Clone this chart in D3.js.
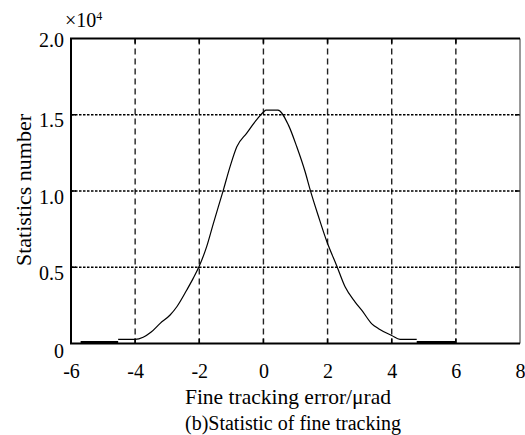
<!DOCTYPE html>
<html>
<head>
<meta charset="utf-8">
<script src="https://cdn.jsdelivr.net/npm/d3@7"></script>
<style>
  body { margin: 0; background: #fff; }
  svg text { font-family: "Liberation Serif", "Times New Roman", serif !important; fill: #000; }
</style>
</head>
<body>
<div id="main-svg"></div>
<script>
// histogram envelope of the fine tracking error (y in 1e4)
var errX = [-4.53, -4.0, -3.75, -3.5, -3.22, -2.91, -2.7, -2.39, -2.19, -2.0, -1.77, -1.56, -1.25,
            -1.04, -0.83, -0.52, -0.21, 0.02, 0.08, 0.45, 0.78, 1.04, 1.30, 1.46, 1.72, 1.98,
            2.29, 2.55, 2.86, 3.07, 3.38, 3.59, 4.0, 4.26, 4.78];
var countY = [0.027, 0.027, 0.041, 0.075, 0.132, 0.187, 0.241, 0.351, 0.427, 0.508, 0.635, 0.788, 1.006,
              1.16, 1.29, 1.38, 1.468, 1.522, 1.53, 1.53, 1.432, 1.29, 1.126, 1.006, 0.831, 0.667,
              0.507, 0.37, 0.272, 0.217, 0.129, 0.097, 0.053, 0.027, 0.027];

// flat, heavily overdrawn tails near zero
var tailStart = [-5.7, 4.78];
var tailEnd = [-4.53, 6.0];
var tailY = 0.007;

var xTicks = [-6, -4, -2, 0, 2, 4, 6, 8];
var yTicks = [0, 0.5, 1.0, 1.5, 2.0];
var xGrid = [-4, -2, 0, 2, 4, 6];
var yGrid = [0.5, 1.0, 1.5];

var serif = '"Liberation Serif", "Times New Roman", serif';

var width = 525, height = 435;
var margin = { top: 38.5, left: 71, right: 5, bottom: 91.5 };
var plotW = width - margin.left - margin.right;
var plotH = height - margin.top - margin.bottom;

var x = d3.scaleLinear().domain([-6, 8]).range([0, plotW]);
var y = d3.scaleLinear().domain([0, 2]).range([plotH, 0]);

var svg = d3.select("#main-svg")
    .append("svg")
    .attr("width", width)
    .attr("height", height)
    .style("font-family", serif);

var g = svg.append("g")
    .attr("transform", "translate(" + margin.left + "," + margin.top + ")");

// grid
g.selectAll(".vgrid")
  .data(xGrid)
  .enter().append("line")
  .attr("x1", function(d) { return x(d); })
  .attr("x2", function(d) { return x(d); })
  .attr("y1", 0)
  .attr("y2", plotH)
  .attr("stroke", "#222")
  .attr("stroke-width", 1.4)
  .attr("stroke-dasharray", "6,4");

g.selectAll(".hgrid")
  .data(yGrid)
  .enter().append("line")
  .attr("x1", 0)
  .attr("x2", plotW)
  .attr("y1", function(d) { return y(d); })
  .attr("y2", function(d) { return y(d); })
  .attr("stroke", "#000")
  .attr("stroke-width", 1.5)
  .attr("stroke-dasharray", "2.5,1.5");

// curve
var line = d3.line()
    .curve(d3.curveMonotoneX)
    .x(function(d) { return x(d[0]); })
    .y(function(d) { return y(d[1]); });

var pts = errX.map(function(d, i) { return [d, countY[i]]; });

g.append("path")
  .datum(pts)
  .attr("d", line)
  .attr("fill", "none")
  .attr("stroke", "#000")
  .attr("stroke-width", 1.2);

g.selectAll(".tail")
  .data(tailStart)
  .enter().append("line")
  .attr("x1", function(d) { return x(d); })
  .attr("x2", function(d, i) { return x(tailEnd[i]); })
  .attr("y1", y(tailY))
  .attr("y2", y(tailY))
  .attr("stroke", "#000")
  .attr("stroke-width", 3);

// inner ticks, matlab style
var tk = 5;
g.selectAll(".tb")
  .data(xTicks.slice(1, -1))
  .enter().append("path")
  .attr("d", function(d) {
    return "M" + x(d) + "," + plotH + "v" + (-tk) + "M" + x(d) + ",0v" + tk;
  })
  .attr("stroke", "#000")
  .attr("stroke-width", 1.5);

g.selectAll(".tl")
  .data(yTicks.slice(1, -1))
  .enter().append("path")
  .attr("d", function(d) {
    return "M0," + y(d) + "h" + tk + "M" + plotW + "," + y(d) + "h" + (-tk);
  })
  .attr("stroke", "#000")
  .attr("stroke-width", 1.5);

// box
g.append("line").attr("x1", plotW).attr("x2", plotW).attr("y1", 0).attr("y2", plotH)
  .attr("stroke", "#555").attr("stroke-width", 1.2);
g.append("path")
  .attr("d", "M" + plotW + ",0H0V" + plotH + "H" + plotW)
  .attr("fill", "none")
  .attr("stroke", "#000")
  .attr("stroke-width", 2);

// axes labels
var xAxis = d3.axisBottom(x).tickValues(xTicks).tickSize(0);
var gx = g.append("g")
    .attr("transform", "translate(0," + plotH + ")")
    .call(xAxis)
    .attr("font-family", serif)
    .attr("font-size", 20);
gx.select(".domain").remove();
gx.selectAll("text")
  .attr("y", 34)
  .attr("dy", 0)
  .style("font-family", serif)
  .style("font-size", "20px")
  .text(function(d) { return d < 0 ? "-" + Math.abs(d) : d; });

var yAxis = d3.axisLeft(y).tickValues(yTicks).tickSize(0).tickPadding(7)
    .tickFormat(function(d) { return d === 0 ? "0" : d3.format(".1f")(d); });
var gy = g.append("g").call(yAxis)
    .attr("font-family", serif)
    .attr("font-size", 20);
gy.select(".domain").remove();
gy.selectAll("text")
  .attr("dy", function(d) { return d === 0 ? "0.72em" : d === 2 ? "0.42em" : "0.6em"; })
  .style("font-family", serif)
  .style("font-size", "20px");

// exponent
var ex = svg.append("text")
    .attr("x", 65)
    .attr("y", 27)
    .style("font-size", "20px");
ex.append("tspan").text("\u00d710");
ex.append("tspan").style("font-size", "12px").attr("dy", -7).text("4");

svg.append("text")
  .attr("transform", "translate(31,190) rotate(-90)")
  .attr("text-anchor", "middle")
  .style("font-size", "22px")
  .text("Statistics number");

svg.append("text")
  .attr("x", 288)
  .attr("y", 404)
  .attr("text-anchor", "middle")
  .style("font-size", "21.5px")
  .text("Fine tracking error/\u03bcrad");

svg.append("text")
  .attr("x", 293)
  .attr("y", 430)
  .attr("text-anchor", "middle")
  .style("font-size", "20px")
  .text("(b)Statistic of fine tracking");
</script>
</body>
</html>
